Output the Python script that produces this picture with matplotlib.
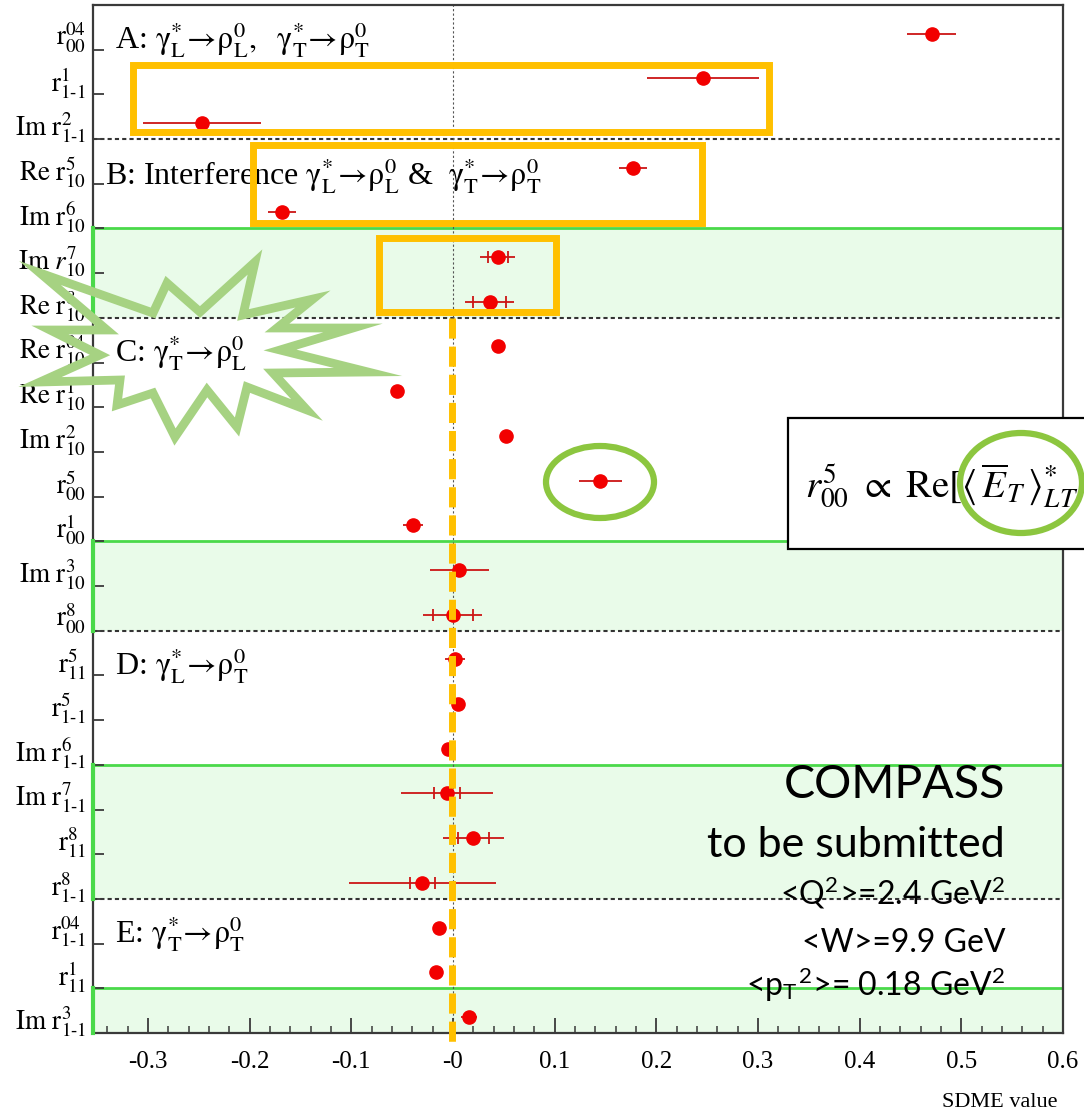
import numpy as np
import matplotlib
matplotlib.use("Agg")
import matplotlib.pyplot as plt
from matplotlib.patches import Rectangle, Ellipse, Polygon
from matplotlib.lines import Line2D
from matplotlib.transforms import Affine2D

plt.rcParams['mathtext.fontset'] = 'stix'
plt.rcParams['font.family'] = ['Liberation Serif', 'DejaVu Serif']

# ---- data -------------------------------------------------------------
sdme_labels = [
    r'$\mathrm{r}^{04}_{00}$',
    r'$\mathrm{r}^{1}_{1‐1}$',
    r'$\mathrm{Im\ r}^{2}_{1‐1}$',
    r'$\mathrm{Re\ r}^{5}_{10}$',
    r'$\mathrm{Im\ r}^{6}_{10}$',
    r'$\mathrm{Im}\ r^{7}_{10}$',
    r'$\mathrm{Re\ r}^{8}_{10}$',
    r'$\mathrm{Re\ r}^{04}_{10}$',
    r'$\mathrm{Re\ r}^{1}_{10}$',
    r'$\mathrm{Im\ r}^{2}_{10}$',
    r'$\mathrm{r}^{5}_{00}$',
    r'$\mathrm{r}^{1}_{00}$',
    r'$\mathrm{Im\ r}^{3}_{10}$',
    r'$\mathrm{r}^{8}_{00}$',
    r'$\mathrm{r}^{5}_{11}$',
    r'$\mathrm{r}^{5}_{1‐1}$',
    r'$\mathrm{Im\ r}^{6}_{1‐1}$',
    r'$\mathrm{Im\ r}^{7}_{1‐1}$',
    r'$\mathrm{r}^{8}_{11}$',
    r'$\mathrm{r}^{8}_{1‐1}$',
    r'$\mathrm{r}^{04}_{1‐1}$',
    r'$\mathrm{r}^{1}_{11}$',
    r'$\mathrm{Im\ r}^{3}_{1‐1}$',
]
sdme_values = [0.471, 0.246, -0.247, 0.177, -0.168, 0.044, 0.036,
               0.044, -0.055, 0.052, 0.145, -0.039, 0.006, 0.000,
               0.002, 0.005, -0.005, -0.006, 0.020, -0.030,
               -0.014, -0.017, 0.016]
total_err = [0.024, 0.055, 0.058, 0.014, 0.014, 0.017, 0.024,
             0.006, 0.006, 0.006, 0.021, 0.010, 0.029, 0.029,
             0.010, 0.006, 0.006, 0.045, 0.030, 0.072,
             0.006, 0.006, 0.008]
stat_err = [None, None, None, None, None, 0.010, 0.016,
            None, None, None, None, None, None, 0.020,
            None, None, None, 0.013, 0.015, 0.012,
            None, None, None]

x_ticks = [-0.3, -0.2, -0.1, 0.0, 0.1, 0.2, 0.3, 0.4, 0.5, 0.6]
x_ticklabels = ['-0.3', '-0.2', '-0.1', '-0', '0.1', '0.2', '0.3', '0.4', '0.5', '0.6']

# class titles (first row of each class)
class_titles = [
    (0, r'A: $\mathrm{\gamma}^{*}_{\mathrm{L}}\!\rightarrow\!\mathrm{\rho}^{0}_{\mathrm{L}},\ \ \mathrm{\gamma}^{*}_{\mathrm{T}}\!\rightarrow\!\mathrm{\rho}^{0}_{\mathrm{T}}$'),
    (3, r'B: Interference $\mathrm{\gamma}^{*}_{\mathrm{L}}\!\rightarrow\!\mathrm{\rho}^{0}_{\mathrm{L}}$ &  $\mathrm{\gamma}^{*}_{\mathrm{T}}\!\rightarrow\!\mathrm{\rho}^{0}_{\mathrm{T}}$'),
    (7, r'C: $\mathrm{\gamma}^{*}_{\mathrm{T}}\!\rightarrow\!\mathrm{\rho}^{0}_{\mathrm{L}}$'),
    (14, r'D: $\mathrm{\gamma}^{*}_{\mathrm{L}}\!\rightarrow\!\mathrm{\rho}^{0}_{\mathrm{T}}$'),
    (20, r'E: $\mathrm{\gamma}^{*}_{\mathrm{T}}\!\rightarrow\!\mathrm{\rho}^{0}_{\mathrm{T}}$'),
]
# rows highlighted in green (first, last)
green_rows = [(5, 6), (12, 13), (17, 19), (22, 22)]
# dashed separators below these rows
dashed_after = [2, 6, 13, 19]

# ---- figure -----------------------------------------------------------
W, H = 1084, 1111
fig = plt.figure(figsize=(W / 100, H / 100), dpi=100)
px = Affine2D().scale(1 / W, -1 / H).translate(0, 1) + fig.transFigure

ax = fig.add_axes([93 / W, (H - 1033) / H, 970 / W, 1028 / H])
n = len(sdme_labels)
ax.set_xlim(-0.354, 0.600)
ax.set_ylim(-0.5, n - 0.5)

row_y = np.array([n - 1 - i for i in range(n)], dtype=float)
pt_y = row_y - 0.14

red = '#f20000'
err_red = '#cc1515'
band_green = '#e9fbe9'
line_green = '#4ad94a'

for a, b in green_rows:
    top = n - 0.5 - a
    bot = n - 1.5 - b
    ax.axhspan(bot, top, color=band_green, lw=0, zorder=0.5)
    ax.axhline(top, color=line_green, lw=2.0, zorder=1)
    ax.plot([-0.354, -0.354], [bot, top], color=line_green, lw=3, zorder=3,
            clip_on=False)

for r in dashed_after:
    ax.axhline(n - 1.5 - r, color='#333333', lw=1.5, ls=(0, (2, 1.5)), zorder=1)

ax.axvline(0, color='#555555', lw=0.8, ls=(0, (2, 2)), zorder=1)

ax.errorbar(sdme_values, pt_y, xerr=total_err, fmt='none', ecolor=err_red,
            elinewidth=1.3, zorder=2)
si = [i for i, e in enumerate(stat_err) if e is not None]
ax.errorbar([sdme_values[i] for i in si], [pt_y[i] for i in si],
            xerr=[stat_err[i] for i in si], fmt='none', ecolor=err_red,
            elinewidth=0, capsize=4.5, capthick=1.3, zorder=2)
ax.plot(sdme_values, pt_y, 'o', color=red, ms=9.5, mec=red, zorder=3)

# axes styling
for s in ax.spines.values():
    s.set_color('#3a3a3a')
    s.set_linewidth(1.6)
ax.set_yticks(pt_y)
ax.set_yticklabels(sdme_labels, fontsize=19.5)
ax.tick_params(axis='y', which='major', length=0, pad=5)
ax.set_yticks([n - 1.5 - i for i in range(n - 1)], minor=True)
ax.tick_params(axis='y', which='minor', direction='in', length=8, width=1.3,
               color='#3a3a3a')
ax.set_xticks(x_ticks)
ax.set_xticklabels(x_ticklabels, fontsize=18)
ax.set_xticks(np.round(np.arange(-0.34, 0.6, 0.02), 3), minor=True)
ax.tick_params(axis='x', which='major', direction='in', length=11, width=1.3,
               pad=13, color='#3a3a3a')
ax.tick_params(axis='x', which='minor', direction='in', length=5, width=1.1,
               color='#3a3a3a')

# class titles
title_base = {0: 49, 3: 185, 7: 362, 14: 675, 20: 943}
title_x = {0: 115, 3: 105, 7: 115, 14: 115, 20: 115}
for r, t in class_titles:
    fig.text(title_x[r], title_base[r], t, transform=px, fontsize=23,
             va='baseline', ha='left', zorder=4)

fig.text(1058, 1093, 'SDME value', transform=px, fontsize=16, ha='right',
         va='top')

# ---- overlays ---------------------------------------------------------
orange = '#ffc000'
for (x0, y0, x1, y1) in [(133, 64.5, 769, 132), (252.5, 144.5, 702, 223),
                         (379, 238, 556, 312)]:
    fig.add_artist(Rectangle((x0, y0), x1 - x0, y1 - y0, transform=px,
                             fill=False, ec=orange, lw=5, zorder=6,
                             joinstyle='miter'))
fig.add_artist(Line2D([452, 452], [318, 1047], transform=px, color=orange,
                      lw=5, ls=(0, (2.9, 1.15)), solid_capstyle='butt',
                      dash_capstyle='butt', zorder=6))

star = [(40, 273), (153, 313), (167, 283), (200, 312), (255, 262), (243, 315),
        (313, 299), (277, 328), (353, 328), (280, 350), (368, 372), (273, 373),
        (307, 410), (247, 387), (237, 427), (207, 390), (175, 437), (153, 393),
        (117, 405), (120, 380), (40, 382), (100, 355), (50, 330), (107, 330)]
fig.add_artist(Polygon(star, closed=True, transform=px, fill=False,
                       ec='#a6d282', lw=6.3, joinstyle='miter', zorder=5))

ell_green = '#8cc63f'
fig.add_artist(Ellipse((600, 482), 108, 72, transform=px, fill=False,
                       ec=ell_green, lw=4.5, zorder=7))

fig.add_artist(Rectangle((788, 418), 320, 131, transform=px, fc='white',
                         ec='black', lw=1.6, zorder=7))
fig.text(805, 498, r'$r^{5}_{00}\ \propto\ \mathrm{Re}[\langle\,\overline{E}_{T}\,\rangle^{*}_{LT}$',
         transform=px, fontsize=28, va='baseline', ha='left', zorder=8)
fig.add_artist(Ellipse((1021, 483), 122, 100, transform=px, fill=False,
                       ec=ell_green, lw=4.5, zorder=9))

cal = ['Lato', 'DejaVu Sans']
fig.text(1005, 798, 'COMPASS', transform=px, fontsize=33.5, family=cal,
         ha='right', va='baseline', zorder=8)
fig.text(1005, 857, 'to be submitted', transform=px, fontsize=31, family=cal,
         ha='right', va='baseline', zorder=8)
fig.text(1005, 903, r'<Q$^{\mathregular{2}}$>=2.4 GeV$^{\mathregular{2}}$',
         transform=px, fontsize=23, family=cal, ha='right', va='baseline', zorder=8)
fig.text(1005, 952, '<W>=9.9 GeV', transform=px, fontsize=23, family=cal,
         ha='right', va='baseline', zorder=8)
fig.text(1005, 995, r'<p$_{\mathregular{T}}$$^{\mathregular{2}}$>= 0.18 GeV$^{\mathregular{2}}$',
         transform=px, fontsize=23, family=cal, ha='right', va='baseline', zorder=8)

fig.savefig('out.png', dpi=100, facecolor='white')
